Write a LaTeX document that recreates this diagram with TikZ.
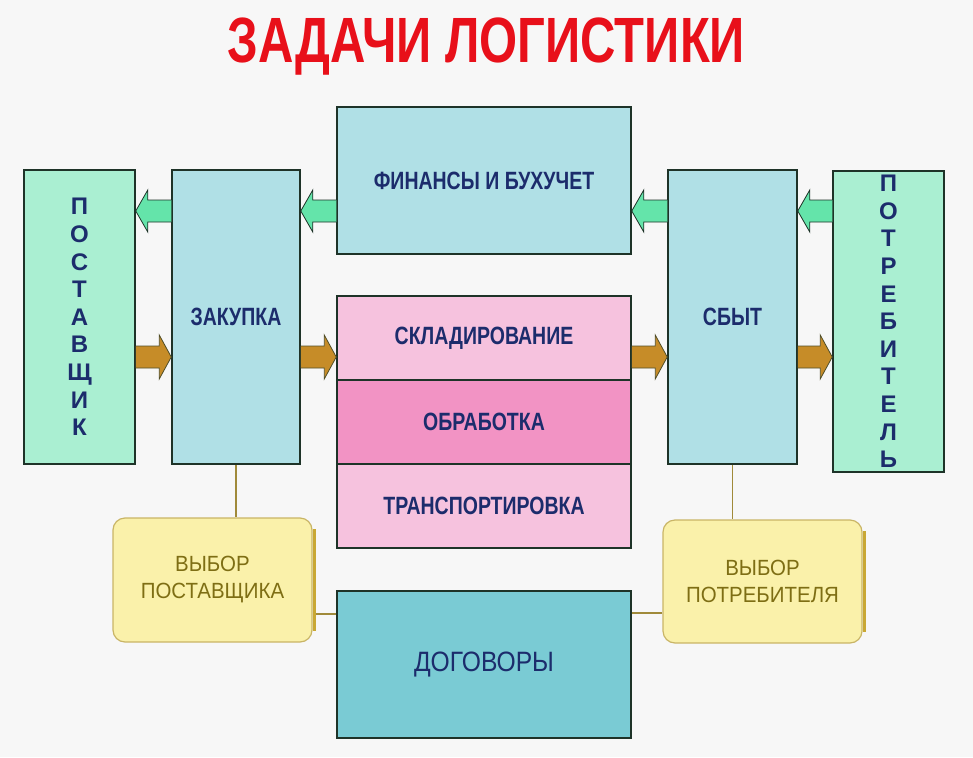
\documentclass[tikz,border=0pt]{standalone}
\usepackage{fontspec}
\setmainfont{Liberation Sans}
\newfontfamily\titlef[FakeStretch=0.765]{Liberation Sans}
\newfontfamily\condf[FakeStretch=0.78]{Liberation Sans}
\newfontfamily\dogf[FakeStretch=0.88]{Liberation Sans}
\newfontfamily\ylwf[FakeStretch=0.93]{Liberation Sans}
\usetikzlibrary{calc}
\definecolor{bgc}{HTML}{F7F7F7}
\definecolor{mint}{HTML}{AAEFD2}
\definecolor{pblue}{HTML}{B0E0E6}
\definecolor{pink1}{HTML}{F6C2DE}
\definecolor{pink2}{HTML}{F293C4}
\definecolor{dogc}{HTML}{7ACBD4}
\definecolor{ylw}{HTML}{FAF1AA}
\definecolor{ylwb}{HTML}{C9B566}
\definecolor{ylws}{HTML}{C9A834}
\definecolor{navy}{HTML}{1C2C6C}
\definecolor{olive}{HTML}{7E6E14}
\definecolor{edgec}{HTML}{1E3328}
\definecolor{gfill}{HTML}{64E4AA}
\definecolor{bfill}{HTML}{C68C28}
\definecolor{connc}{HTML}{A08A3A}
\definecolor{tred}{HTML}{E8101A}
\tikzset{
  box/.style={draw=edgec, line width=1.5pt, inner sep=0pt, text=navy,
    font=\condf\bfseries\fontsize{25}{28}\selectfont, align=center},
  vbox/.style={box, font=\bfseries\fontsize{24}{27.6}\selectfont},
  ybox/.style={draw=ylwb, line width=1.2pt, fill=ylw, rounded corners=12pt,
    inner sep=0pt, text=olive, align=center,
    font=\ylwf\fontsize{22}{27}\selectfont},
  yshadow/.style={draw=ylws, line width=3pt},
  garrow/.style={fill=gfill, draw=edgec, line width=0.8pt},
  barrow/.style={fill=bfill, draw=edgec!70!bfill, line width=0.8pt},
  connline/.style={draw=connc, line width=1.8pt}
}
\newcommand\garr[3]{%
  \filldraw[garrow] let \p1=(#1.west), \p2=(#2.east) in
    (\x1,-#3pt+11pt) -- (\x2+12pt,-#3pt+11pt) -- (\x2+12pt,-#3pt+21pt) --
    (\x2,-#3pt) -- (\x2+12pt,-#3pt-21pt) -- (\x2+12pt,-#3pt-11pt) -- (\x1,-#3pt-11pt);}
\newcommand\barr[3]{%
  \filldraw[barrow] let \p1=(#1.east), \p2=(#2.west) in
    (\x1,-#3pt+11pt) -- (\x2-12pt,-#3pt+11pt) -- (\x2-12pt,-#3pt+22pt) --
    (\x2,-#3pt) -- (\x2-12pt,-#3pt-22pt) -- (\x2-12pt,-#3pt-11pt) -- (\x1,-#3pt-11pt);}
\begin{document}
\begin{tikzpicture}[x=1pt,y=1pt]
\fill[bgc] (0,0) rectangle (973,-757);
\useasboundingbox (0,0) rectangle (973,-757);

\node[font=\titlef\bfseries\fontsize{64}{64}\selectfont, text=tred, anchor=base]
  (title) at (486.5,-63) {ЗАДАЧИ ЛОГИСТИКИ};

\node[vbox, fill=mint, minimum width=111, minimum height=294] (post) at (79.5,-317)
  {П\\О\\С\\Т\\А\\В\\Щ\\И\\К};
\node[box, fill=pblue, minimum width=128, minimum height=294] (zak) at (236,-317) {ЗАКУПКА};
\node[box, fill=pblue, minimum width=294, minimum height=147] (fin) at (484,-180.5) {ФИНАНСЫ И БУХУЧЕТ};
\node[box, fill=pink1, minimum width=294, minimum height=84] (sklad) at (484,-338) {СКЛАДИРОВАНИЕ};
\node[box, fill=pink2, minimum width=294, minimum height=84] (obrab) at (484,-422) {ОБРАБОТКА};
\node[box, fill=pink1, minimum width=294, minimum height=84] (trans) at (484,-506) {ТРАНСПОРТИРОВКА};
\node[box, fill=pblue, minimum width=129, minimum height=294] (sbyt) at (732.5,-317) {СБЫТ};
\node[vbox, fill=mint, minimum width=111, minimum height=301] (potr) at (888.5,-321.5)
  {П\\О\\Т\\Р\\Е\\Б\\И\\Т\\Е\\Л\\Ь};
\node[box, fill=dogc, minimum width=294, minimum height=147,
  font=\dogf\fontsize{28}{30}\selectfont] (dog) at (484,-664.5) {ДОГОВОРЫ};

\node[ybox, minimum width=199, minimum height=124] (vpost) at (212.5,-580) {ВЫБОР\\ПОСТАВЩИКА};
\node[ybox, minimum width=199, minimum height=123] (vpotr) at (762.5,-581.5) {ВЫБОР\\ПОТРЕБИТЕЛЯ};
\draw[yshadow] ([xshift=1.5pt,yshift=-12pt]vpost.north east) -- ([xshift=1.5pt,yshift=12pt]vpost.south east);
\draw[yshadow] ([xshift=1.5pt,yshift=-12pt]vpotr.north east) -- ([xshift=1.5pt,yshift=12pt]vpotr.south east);

\draw[connline] (zak.south) -- (zak.south |- vpost.north);
\draw[connline] (sbyt.south) -- (sbyt.south |- vpotr.north);
\draw[connline] ([xshift=3pt]vpost.east |- 0,-614) -- (dog.west |- 0,-614);
\draw[connline] (vpotr.west |- 0,-613) -- (dog.east |- 0,-613);

\garr{zak}{post}{211}
\garr{fin}{zak}{211}
\garr{sbyt}{fin}{211}
\garr{potr}{sbyt}{211}
\barr{post}{zak}{357}
\barr{zak}{sklad}{357}
\barr{sklad}{sbyt}{357}
\barr{sbyt}{potr}{357}
\end{tikzpicture}
\end{document}
